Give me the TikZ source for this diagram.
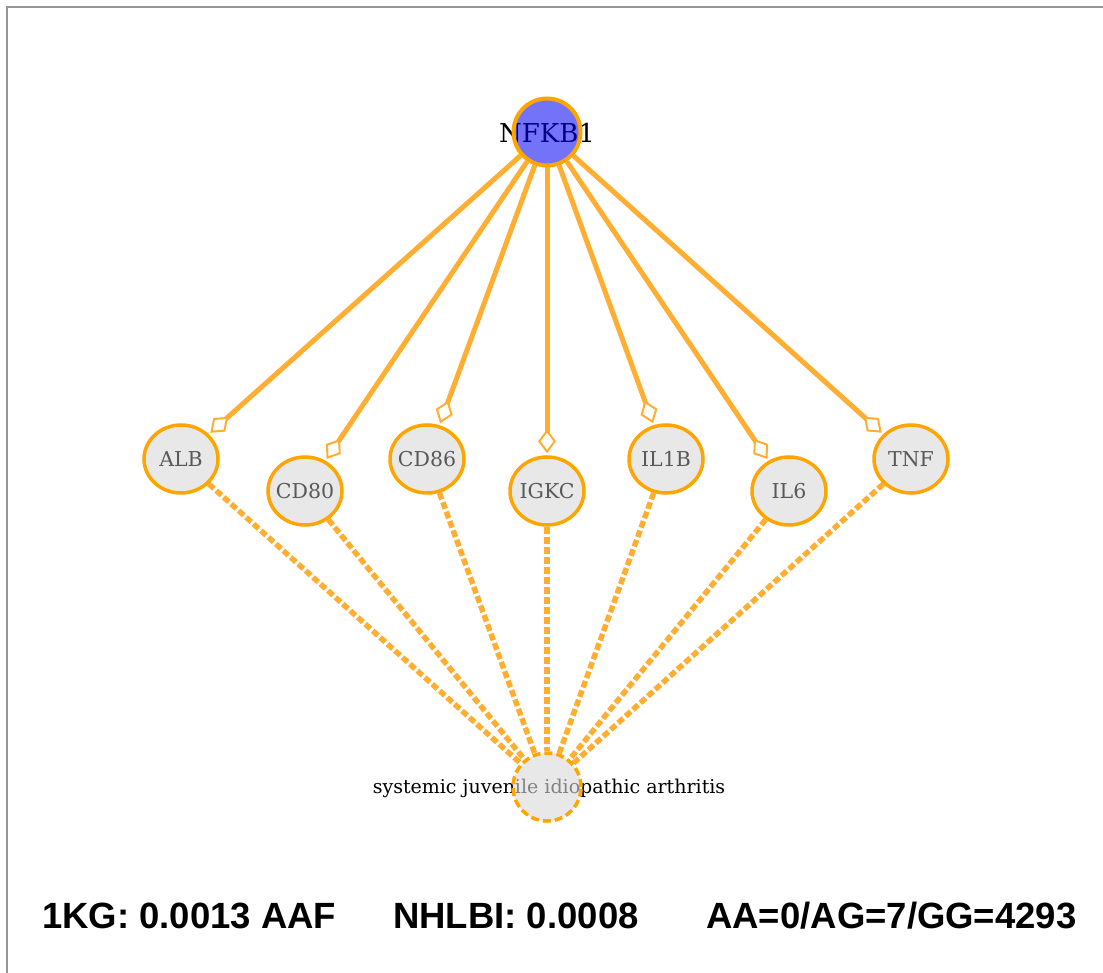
\documentclass[tikz,border=0pt]{standalone}
\usepackage{fontspec}
\setmainfont{DejaVu Serif}
\newfontfamily\lsans{Liberation Sans}
\usetikzlibrary{arrows.meta,shapes.geometric}
\definecolor{borange}{RGB}{255,165,0}
\definecolor{eorange}{RGB}{255,174,50}
\definecolor{nodegray}{RGB}{232,232,232}
\definecolor{disgray}{RGB}{217,217,217}
\definecolor{hubblue}{RGB}{0,0,245}
\definecolor{framegray}{RGB}{150,150,150}
\pgfdeclarelayer{bg}
\pgfsetlayers{bg,main}
\begin{document}
\begin{tikzpicture}[x=1pt,y=-1pt,
  gene/.style={ellipse, minimum width=74pt, minimum height=68pt, inner sep=0pt,
    draw=borange, line width=3.5pt, fill=nodegray},
  genelabel/.style={text=black!65, inner sep=0pt, font=\fontsize{20.5}{20.5}\selectfont},
  hubtext/.style={font=\fontsize{26}{26}\selectfont, text=black, inner sep=0pt},
  hub/.style={circle, minimum size=67pt, inner sep=0pt, draw=borange, line width=4pt,
    fill=hubblue, fill opacity=0.55},
  distext/.style={font=\fontsize{19}{19}\selectfont, text=black, inner sep=0pt},
  disease/.style={circle, minimum size=68pt, inner sep=0pt, draw=borange, line width=3.5pt,
    dash pattern=on 8pt off 4pt, fill=disgray, fill opacity=0.6},
  link/.style={draw=eorange, line width=5pt,
    -{Diamond[length=24pt, width=18pt, line width=2pt, fill=white]}, shorten >=2pt},
  assoc/.style={draw=eorange, line width=5.5pt, dash pattern=on 7pt off 3pt},
  stat/.style={font=\lsans\bfseries\fontsize{36.5}{36.5}\selectfont, inner sep=0pt, anchor=base west}
]
\useasboundingbox (0,0) rectangle (1103,973);
\draw[framegray, line width=2pt] (7,973) -- (7,7) -- (1103,7);

% hub
\node[hubtext] (hubtxt) at (547,133) {NFKB1};
\node[hub] (hub) at (547,132) {};

% genes
\node[gene, label={[genelabel]center:ALB}]  (alb)  at (181,459) {};
\node[gene, label={[genelabel]center:CD80}] (cd80) at (305,491) {};
\node[gene, label={[genelabel]center:CD86}] (cd86) at (427,459) {};
\node[gene, label={[genelabel]center:IGKC}] (igkc) at (547,491) {};
\node[gene, label={[genelabel]center:IL1B}] (il1b) at (666,459) {};
\node[gene, label={[genelabel]center:IL6}]  (il6)  at (789,491) {};
\node[gene, label={[genelabel]center:TNF}]  (tnf)  at (911,459) {};

% disease
\node[distext] (distxt) at (549,788) {systemic juvenile idiopathic arthritis};
\node[disease] (dis) at (547,787) {};

\begin{pgfonlayer}{bg}
\foreach \g in {alb,cd80,cd86,igkc,il1b,il6,tnf}{
  \draw[link] (hub) -- (\g);
  \draw[assoc] (\g) -- (dis);
}
\end{pgfonlayer}

% statistics line
\node[stat] (s1) at (42,928) {1KG: 0.0013 AAF};
\node[stat] (s2) at (393,928) {NHLBI: 0.0008};
\node[stat] (s3) at (706,928) {AA=0/AG=7/GG=4293};
\end{tikzpicture}
\end{document}
